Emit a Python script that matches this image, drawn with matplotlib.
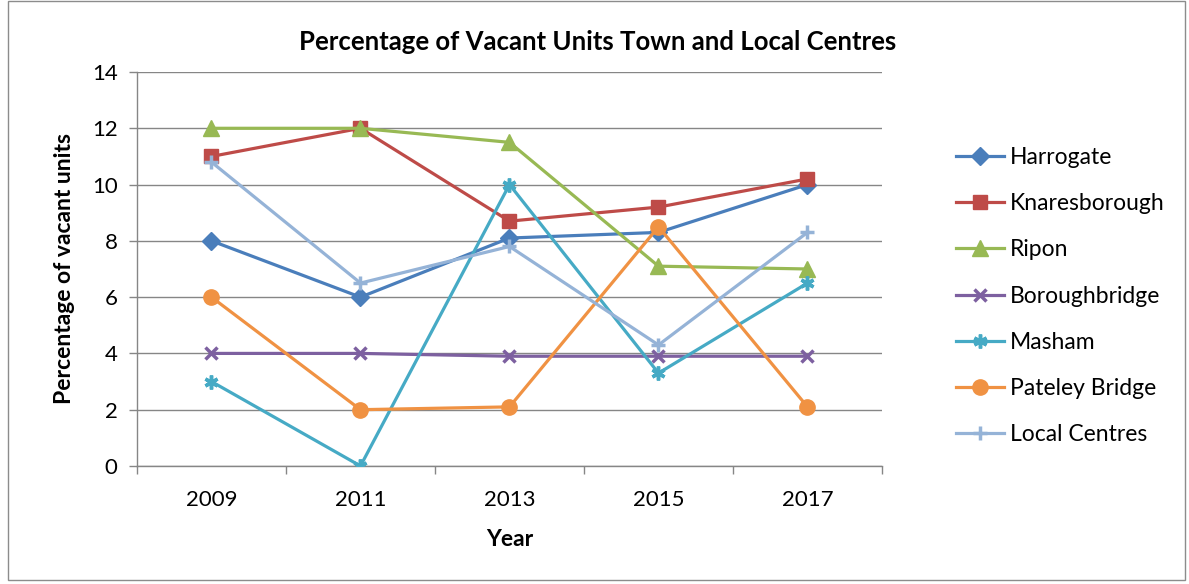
import matplotlib.pyplot as plt
from matplotlib.patches import Rectangle

plt.rcParams['font.family'] = ['Lato', 'DejaVu Sans']

years = ['2009', '2011', '2013', '2015', '2017']

harrogate = [8, 6, 8.1, 8.3, 10]
knaresborough = [11, 12, 8.7, 9.2, 10.2]
ripon = [12, 12, 11.5, 7.1, 7.0]
boroughbridge = [4, 4, 3.9, 3.9, 3.9]
masham = [3, 0, 10, 3.3, 6.5]
pateley_bridge = [6, 2, 2.1, 8.5, 2.1]
local_centres = [10.8, 6.5, 7.8, 4.3, 8.3]

series = [
    ('Harrogate', harrogate, '#4A7EBB', 'D', 9),
    ('Knaresborough', knaresborough, '#BE4B48', 's', 10),
    ('Ripon', ripon, '#98B954', '^', 11),
    ('Boroughbridge', boroughbridge, '#7D60A0', 'x', 9),
    ('Masham', masham, '#46AAC5', (6, 2, 0), 10),
    ('Pateley Bridge', pateley_bridge, '#F09243', 'o', 11),
    ('Local Centres', local_centres, '#95B3D7', '+', 10),
]

fig = plt.figure(figsize=(11.89, 5.84), dpi=100)
ax = fig.add_axes([0.1152, 0.2021, 0.6266, 0.6746])

x = list(range(len(years)))
for name, vals, color, marker, ms in series:
    ax.plot(x, vals, color=color, linewidth=2.3, marker=marker, markersize=ms,
            markeredgewidth=2.5 if marker in ('x', '+', (6, 2, 0)) else 1,
            markerfacecolor=color, markeredgecolor=color, label=name, zorder=3)

ax.set_xlim(-0.5, len(years) - 0.5)
ax.set_ylim(0, 14)
ax.set_yticks(range(0, 15, 2))
ax.set_xticks(x)
ax.set_xticklabels(years)
ax.set_xticks([i - 0.5 for i in range(len(years) + 1)], minor=True)
ax.tick_params(axis='x', which='major', length=0, labelsize=16, pad=17)
ax.tick_params(axis='x', which='minor', length=6, color='#868686', width=1)
ax.tick_params(axis='y', length=6, color='#868686', width=1, labelsize=16, pad=8)

ax.grid(axis='y', color='#868686', linewidth=1, zorder=0)
ax.set_axisbelow(True)
for s in ('top', 'right'):
    ax.spines[s].set_visible(False)
for s in ('left', 'bottom'):
    ax.spines[s].set_color('#868686')
    ax.spines[s].set_linewidth(1)

ax.set_xlabel('Year', fontsize=16.5, fontweight='bold', labelpad=14)
ax.set_ylabel('Percentage of vacant units', fontsize=16.5, fontweight='bold', labelpad=12)
fig.text(0.503, 0.928, 'Percentage of Vacant Units Town and Local Centres',
         ha='center', va='center', fontsize=18.5, fontweight='bold')

fig.legend(loc='center left', bbox_to_anchor=(0.787, 0.493), frameon=False,
           fontsize=16.5, handlelength=2.1, handletextpad=0.25, labelspacing=1.1)

fig.patches.append(Rectangle((0.007, 0.006), 0.99, 0.992, transform=fig.transFigure,
                             fill=False, edgecolor='#8c8c8c', linewidth=1))

fig.savefig('out.png', dpi=100)
